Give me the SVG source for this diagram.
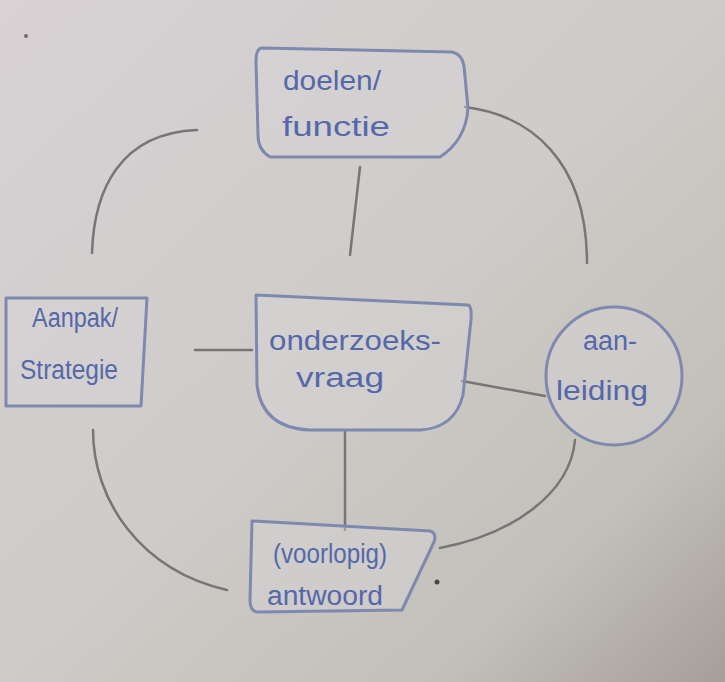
<svg xmlns="http://www.w3.org/2000/svg" width="725" height="682" viewBox="0 0 725 682">
<defs>
<linearGradient id="bg" x1="0" y1="0" x2="1" y2="1">
<stop offset="0" stop-color="#d8d2d5"/>
<stop offset="0.5" stop-color="#cecbc8"/>
<stop offset="0.8" stop-color="#c2c0b9"/>
<stop offset="1" stop-color="#a69e9a"/>
</linearGradient>
<style>
.node{fill:#d6d5d7;fill-opacity:0.45;stroke:#7d89ae;stroke-width:3;stroke-linejoin:round}
.lbl{font-family:"Liberation Sans",Arial,sans-serif;font-size:27px;fill:#5568a9;text-anchor:middle}
.con{fill:none;stroke:#777575;stroke-width:2.5;stroke-linecap:round}
</style>
</defs>
<rect x="0" y="0" width="725" height="682" fill="url(#bg)"/>
<g id="connectors">
<path class="con" d="M360,167 L350,255"/>
<path class="con" d="M92,253 C94,190 120,133 197,130"/>
<path class="con" d="M465,107 C530,115 587,160 587,263"/>
<path class="con" d="M195,350 L252,350"/>
<path class="con" d="M462,381 L545,396"/>
<path class="con" d="M345,432 L345,530"/>
<path class="con" d="M93,430 C93,500 140,570 227,590"/>
<path class="con" d="M575,440 C570,495 510,535 440,548"/>
</g>
<g id="node-doelen">
<path class="node" d="M262,48 L452,52 Q462,54 464,66 L468,108 Q466,140 440,157 L270,157 Q258,150 258,135 L256,62 Q256,48 262,48 Z"/>
<text class="lbl" x="332" y="90" textLength="98" lengthAdjust="spacingAndGlyphs">doelen/</text>
<text class="lbl" x="336" y="136" textLength="108" lengthAdjust="spacingAndGlyphs">functie</text>
</g>
<g id="node-aanpak">
<path class="node" d="M6,298 L147,298 L141,406 L6,406 Z"/>
<text class="lbl" x="75" y="327" font-size="22" textLength="86" lengthAdjust="spacingAndGlyphs">Aanpak/</text>
<text class="lbl" x="69" y="379" font-size="22" textLength="98" lengthAdjust="spacingAndGlyphs">Strategie</text>
</g>
<g id="node-onderzoeksvraag">
<path class="node" d="M256,295 L468,305 Q472,306 471,320 L463,395 Q455,428 420,430 L310,430 Q262,428 257,385 Z"/>
<text class="lbl" x="355" y="350" textLength="172" lengthAdjust="spacingAndGlyphs">onderzoeks-</text>
<text class="lbl" x="340" y="387" textLength="88" lengthAdjust="spacingAndGlyphs">vraag</text>
</g>
<g id="node-aanleiding">
<ellipse class="node" cx="614" cy="376" rx="68" ry="69"/>
<text class="lbl" x="610" y="350">aan-</text>
<text class="lbl" x="602" y="400" textLength="92" lengthAdjust="spacingAndGlyphs">leiding</text>
</g>
<g id="node-antwoord">
<path class="node" d="M252,521 L430,531 Q437,533 434,542 L402,610 L258,612 Q250,612 250,600 Z"/>
<text class="lbl" x="330" y="563" font-size="24" textLength="114" lengthAdjust="spacingAndGlyphs">(voorlopig)</text>
<text class="lbl" x="325" y="605" textLength="116" lengthAdjust="spacingAndGlyphs">antwoord</text>
</g>
<circle cx="437" cy="582" r="2.5" fill="#4a4848"/>
<circle cx="26" cy="36" r="2" fill="#6d6a6e"/>
</svg>
